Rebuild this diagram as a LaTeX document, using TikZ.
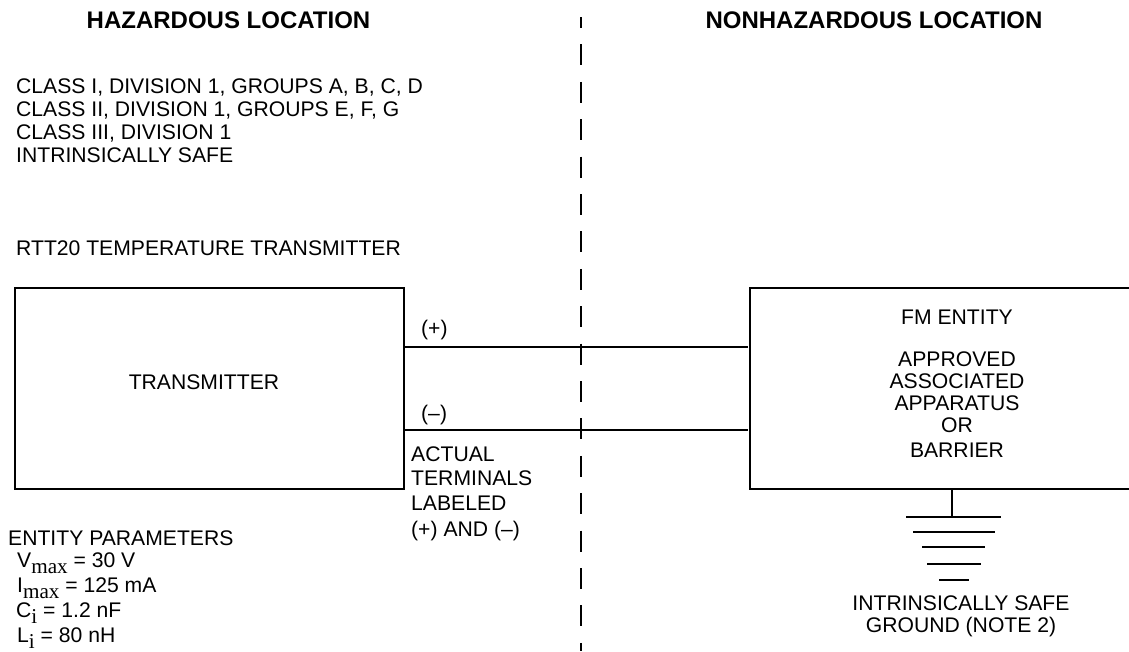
\documentclass[tikz,border=0pt]{standalone}
\usepackage{fontspec}
\setmainfont{Liberation Sans}
\newfontfamily\subfam{Liberation Serif}
\newcommand{\lowsub}[1]{\raisebox{-6.5pt}{\subfam #1}}

\tikzset{
  txt/.style={anchor=base west,inner sep=0pt,font=\fontsize{21.15}{22}\selectfont,align=left},
  ctr/.style={anchor=base,inner sep=0pt,font=\fontsize{21.15}{22}\selectfont,align=center},
  head/.style={anchor=base,inner sep=0pt,font=\fontsize{24}{26}\selectfont\bfseries},
  unit/.style={draw=black,line width=2pt,minimum width=388.5pt,minimum height=200.5pt,inner sep=0pt,outer sep=0pt,anchor=north west},
  wire/.style={line width=1.3pt}
}

\begin{document}
\begin{tikzpicture}[x=1pt,y=-1pt,line join=miter]
  \useasboundingbox (0,0) rectangle (1129,651);

  % headings and the boundary
  \node [head] (hazhead) at (228.5,28) {HAZARDOUS LOCATION};
  \node [head] (safehead) at (874,28) {NONHAZARDOUS LOCATION};
  \coordinate (bndtop) at (581,17);
  \coordinate (bndbot) at (581,651);
  \draw [line width=1.5pt,dash pattern=on 21pt off 16.4pt,dash phase=10pt] (bndtop) -- (bndbot);

  \node [txt] (classI) at (16,93) {CLASS I, DIVISION 1, GROUPS A, B, C, D};
  \node [txt] (classII) at (16,116) {CLASS II, DIVISION 1, GROUPS E, F, G};
  \node [txt] (classIII) at (16,139) {CLASS III, DIVISION 1};
  \node [txt] (safe) at (16,162) {INTRINSICALLY SAFE};
  \node [txt] (model) at (16,255) {RTT20 TEMPERATURE TRANSMITTER};

  % transmitter box
  \node [unit] (xmtr) at (15,288) {};
  \node [ctr] (xmtrtxt) at (204,389) {TRANSMITTER};

  % entity box, open at the right
  \coordinate (enttr) at (1129,288);
  \coordinate (enttl) at (750,288);
  \coordinate (entbl) at (750,488.7);
  \coordinate (entbr) at (1129,488.7);
  \draw [line width=2pt] (enttr) -- (enttl) -- (entbl) -- (entbr);
  \node [ctr] (enttxt) at (957,457) {FM ENTITY\\[20pt]APPROVED\\ASSOCIATED\\APPARATUS\\OR\\[3pt]BARRIER};

  % the two wires
  \coordinate (plusa) at (xmtr.east |- 0,347);
  \coordinate (plusb) at (748,347);
  \coordinate (minusa) at (xmtr.east |- 0,430);
  \coordinate (minusb) at (748,430);
  \draw [wire] (plusa) -- (plusb);
  \draw [wire] (minusa) -- (minusb);
  \node [txt] (plus) at (421,335) {(+)};
  \node [txt] (minus) at (421,420) {(--)};
  \node [txt] (termA) at (411,461) {ACTUAL};
  \node [txt] (termB) at (411,485) {TERMINALS};
  \node [txt] (termC) at (411,510) {LABELED};
  \node [txt] (termD) at (411,536) {(+) AND (--)};

  % ground
  \coordinate (gndtop) at (952,489);
  \coordinate (gndbot) at (952,517);
  \draw [wire] (gndtop) -- (gndbot);
  \foreach \y/\a/\b in {517/906/1001,532/913/995,547/922/985,564/927/981,580/939/969} {
      \draw [wire] (\a,\y) -- (\b,\y);
    }
  \node [ctr] (gndtxt) at (961,632) {INTRINSICALLY SAFE\\GROUND (NOTE 2)};

  % entity parameters
  \node [txt] (params) at (8,545) {ENTITY PARAMETERS};
  \node [txt] (vmax) at (17,567) {V\lowsub{max} = 30 V};
  \node [txt] (imax) at (17,592) {I\lowsub{max} = 125 mA};
  \node [txt] (ci) at (16,617) {C\lowsub{i} = 1.2 nF};
  \node [txt] (li) at (17,642) {L\lowsub{i} = 80 nH};
\end{tikzpicture}
\end{document}
